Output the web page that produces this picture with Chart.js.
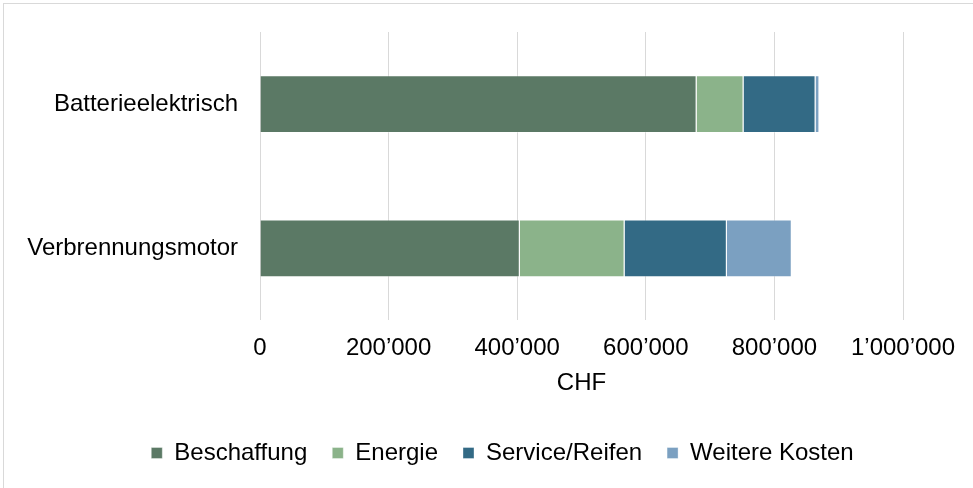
<!DOCTYPE html>
<html>
<head>
<meta charset="utf-8">
<script src="https://cdn.jsdelivr.net/npm/chart.js@4"></script>
<style>
  body { margin: 0; background: #fff; }
  #wrap { position: relative; width: 973px; height: 488px; overflow: hidden; }
  #frame { position: absolute; left: 3px; top: 3px; width: 1000px; height: 600px; border: 1px solid #d9d9d9; }
  canvas { position: absolute; left: 0; top: 0; }
</style>
</head>
<body>
<div id="wrap">
  <div id="frame"></div>
  <canvas id="myChart" width="973" height="488"></canvas>
</div>
<script>
const categories = ['Batterieelektrisch', 'Verbrennungsmotor'];

const beschaffung = [679000, 404000];
const energie = [73000, 163000];
const serviceReifen = [112000, 159000];
const weitereKosten = [6000, 101000];

const xTicks = [0, 200000, 400000, 600000, 800000, 1000000];

const fontFamily = '"Liberation Sans", Arial, sans-serif';

function swissNumber(v) {
    return String(v).replace(/\B(?=(\d{3})+(?!\d))/g, '\u2019');
}

// legend sits a bit right of the canvas centre in the original
const legendShift = {
    id: 'legendShift',
    afterLayout(chart) {
        chart.legend.left += 41;
        chart.legend.right += 41;
    }
};

const ctx = document.getElementById('myChart').getContext('2d');

const data = {
    labels: categories,
    datasets: [
        { label: 'Beschaffung', data: beschaffung, backgroundColor: '#5b7965' },
        { label: 'Energie', data: energie, backgroundColor: '#8bb38a' },
        { label: 'Service/Reifen', data: serviceReifen, backgroundColor: '#336a85' },
        { label: 'Weitere Kosten', data: weitereKosten, backgroundColor: '#7ba0c1' }
    ].map(ds => Object.assign(ds, {
        borderColor: 'rgba(255, 255, 255, 0.35)',
        borderWidth: 1,
        categoryPercentage: 0.4,
        barPercentage: 1.0
    }))
};

const config = {
    type: 'bar',
    data: data,
    options: {
        indexAxis: 'y',
        responsive: false,
        animation: false,
        layout: {
            padding: { left: 20, right: 70, top: 32, bottom: 13 }
        },
        scales: {
            x: {
                stacked: true,
                min: 0,
                max: 1000000,
                afterBuildTicks: (scale) => {
                    scale.ticks = xTicks.map(v => ({ value: v }));
                },
                grid: { color: '#d9d9d9', lineWidth: 1, drawTicks: false },
                border: { display: false },
                ticks: {
                    padding: 14,
                    color: '#000',
                    font: { family: fontFamily, size: 24 },
                    maxRotation: 0,
                    callback: (v) => swissNumber(v)
                },
                title: {
                    display: true,
                    text: 'CHF',
                    color: '#000',
                    font: { family: fontFamily, size: 24 },
                    padding: { top: -8, bottom: 18 }
                }
            },
            y: {
                stacked: true,
                grid: { display: false, drawTicks: true, tickLength: 18 },
                border: { display: false },
                afterFit: (scale) => { scale.width = 240; },
                ticks: {
                    padding: 4,
                    color: '#000',
                    font: { family: fontFamily, size: 24 }
                }
            }
        },
        plugins: {
            legend: {
                position: 'bottom',
                labels: {
                    boxWidth: 11,
                    boxHeight: 11,
                    padding: 25,
                    color: '#000',
                    font: { family: fontFamily, size: 24 }
                }
            },
            tooltip: { enabled: false }
        }
    },
    plugins: [legendShift]
};

const myChart = new Chart(ctx, config);
</script>
</body>
</html>
